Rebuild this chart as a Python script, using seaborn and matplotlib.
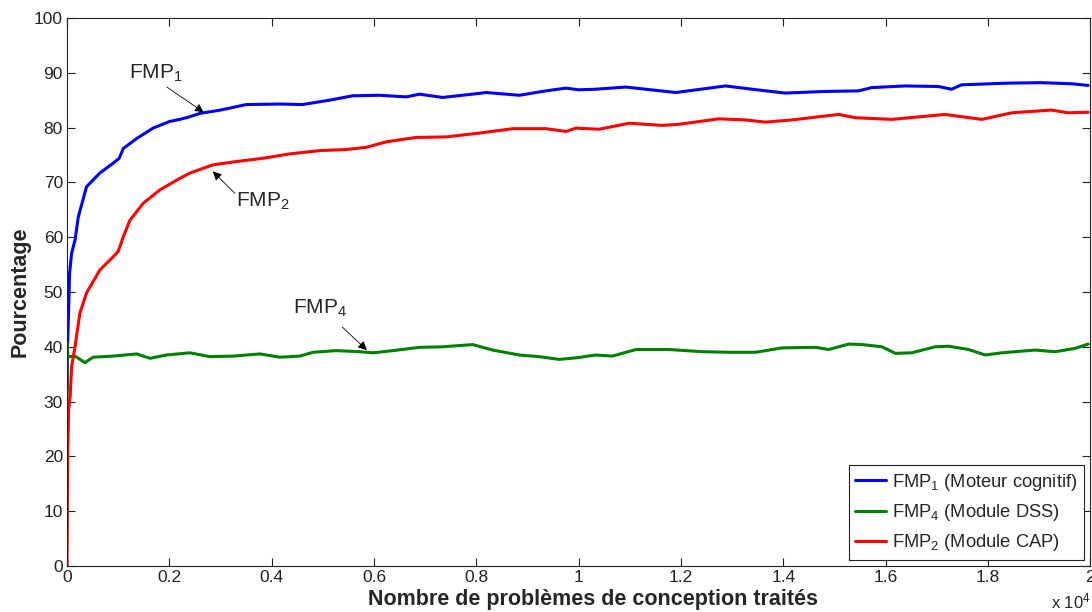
import matplotlib
matplotlib.use("Agg")
from matplotlib import pyplot as plt
from matplotlib.ticker import FuncFormatter, MultipleLocator
import numpy as np
import pandas as pd
import seaborn as sns

# nombre de problemes traites (x) et pourcentage (y)
fmp1_x = [0, 10, 50, 90, 156, 220, 380, 640, 900, 1020, 1100, 1360, 1680, 2000, 2200,
          2370, 2600, 3000, 3500, 4160, 4600, 5130, 5580, 6100, 6630, 6890, 7340,
          7920, 8190, 8840, 9360, 9750, 10000, 10330, 10920, 11900, 12870, 13390,
          14040, 14820, 15470, 15730, 16380, 17030, 17290, 17480, 18340, 19040,
          19630, 19960]
fmp1_y = [32, 40, 53.5, 57.1, 59.5, 63.7, 69.2, 71.7, 73.5, 74.4, 76.2, 78.0, 79.9,
          81.1, 81.5, 81.9, 82.6, 83.2, 84.2, 84.3, 84.2, 85.0, 85.8, 85.9, 85.6,
          86.1, 85.5, 86.1, 86.4, 85.9, 86.7, 87.2, 86.9, 87.0, 87.4, 86.4, 87.6,
          87.0, 86.3, 86.6, 86.7, 87.3, 87.6, 87.5, 87.0, 87.8, 88.1, 88.2, 88.0,
          87.7]

fmp2_x = [0, 15, 30, 60, 90, 156, 250, 380, 640, 900, 1000, 1100, 1230, 1490, 1810,
          2140, 2400, 2850, 3310, 3830, 4350, 4940, 5460, 5850, 6240, 6820, 7410,
          8060, 8710, 9360, 9750, 9950, 10400, 10990, 11630, 11960, 12740, 13260,
          13650, 14170, 15080, 15410, 16120, 17160, 17880, 18470, 19240, 19570,
          19960]
fmp2_y = [0, 21, 28.5, 30.9, 36.4, 40.0, 46.1, 49.8, 54.0, 56.4, 57.4, 60.1, 63.1,
          66.2, 68.6, 70.4, 71.7, 73.2, 73.8, 74.4, 75.2, 75.8, 76.0, 76.4, 77.4,
          78.2, 78.3, 79.0, 79.8, 79.8, 79.3, 79.9, 79.7, 80.8, 80.4, 80.6, 81.6,
          81.4, 81.0, 81.4, 82.4, 81.8, 81.5, 82.4, 81.5, 82.7, 83.2, 82.7, 82.8]

fmp4_x = [0, 5, 15, 60, 156, 350, 380, 510, 900, 1360, 1620, 1940, 2400, 2790, 3250,
          3770, 4160, 4550, 4810, 5260, 5720, 5980, 6370, 6890, 7340, 7930, 8320,
          8840, 9230, 9620, 9970, 10330, 10660, 11120, 11770, 12420, 12940, 13460,
          13980, 14630, 14890, 15280, 15540, 15930, 16190, 16510, 16970, 17230,
          17620, 17950, 18270, 18920, 19310, 19700, 19960]
fmp4_y = [29, 40.7, 38.2, 38.2, 38.3, 37.1, 37.3, 38.1, 38.3, 38.7, 37.9, 38.5, 38.9,
          38.2, 38.3, 38.7, 38.1, 38.3, 39.0, 39.3, 39.1, 38.9, 39.3, 39.9, 40.0,
          40.4, 39.4, 38.5, 38.2, 37.7, 38.0, 38.5, 38.3, 39.5, 39.5, 39.1, 39.0,
          39.0, 39.8, 39.9, 39.5, 40.5, 40.4, 40.0, 38.8, 38.9, 40.0, 40.1, 39.5,
          38.5, 38.9, 39.4, 39.1, 39.7, 40.5]

labels = [r"FMP$_1$ (Moteur cognitif)", r"FMP$_4$ (Module DSS)", r"FMP$_2$ (Module CAP)"]
couleurs = ["#0000ff", "#008000", "#ff0000"]

sns.set_style("ticks")
plt.rcParams["font.family"] = ["Liberation Sans", "DejaVu Sans"]
plt.rcParams["mathtext.fontset"] = "custom"
plt.rcParams["mathtext.rm"] = "Liberation Sans"
plt.rcParams["mathtext.it"] = "Liberation Sans"
plt.rcParams["mathtext.bf"] = "Liberation Sans:bold"

df = pd.concat([
    pd.DataFrame({"x": fmp1_x, "y": fmp1_y, "serie": labels[0]}),
    pd.DataFrame({"x": fmp4_x, "y": fmp4_y, "serie": labels[1]}),
    pd.DataFrame({"x": fmp2_x, "y": fmp2_y, "serie": labels[2]}),
])

fig = plt.figure(figsize=(10.92, 6.12), dpi=100)
ax = fig.add_axes([0.0614, 0.0752, 0.937, 0.8954])
sns.lineplot(data=df, x="x", y="y", hue="serie", palette=couleurs, hue_order=labels,
             sort=False, estimator=None, linewidth=2.2, ax=ax)

ax.set_xlim(0, 20000)
ax.set_ylim(0, 100)
ax.xaxis.set_major_locator(MultipleLocator(2000))
ax.yaxis.set_major_locator(MultipleLocator(10))
ax.xaxis.set_major_formatter(FuncFormatter(lambda v, p: f"{v / 1e4:g}"))
ax.tick_params(direction="in", length=6, width=0.8, top=True, right=True,
               labelsize=12.5, pad=3, colors="#222222")
for s in ax.spines.values():
    s.set_visible(True)
    s.set_linewidth(0.8)
    s.set_color("#222222")

ax.set_xlabel("Nombre de problèmes de conception traités", fontsize=15.5,
              fontweight="bold")
ax.xaxis.set_label_coords(0.514, -0.042)
ax.set_ylabel("Pourcentage", fontsize=15.5, fontweight="bold", labelpad=2)
ax.text(0.962, -0.077, r"x 10$^4$", transform=ax.transAxes, fontsize=12,
        ha="left", va="baseline")

fleche = dict(arrowstyle="-|>", color="black", lw=0.6, mutation_scale=13,
              shrinkA=0, shrinkB=0)
ax.text(1210, 89, r"FMP$_1$", fontsize=15, ha="left", va="baseline")
ax.annotate("", xy=(2670, 82.8), xytext=(1950, 87.4), arrowprops=fleche)
ax.text(3300, 65.5, r"FMP$_2$", fontsize=15, ha="left", va="baseline")
ax.annotate("", xy=(2850, 72.0), xytext=(3280, 68.0), arrowprops=fleche)
ax.text(4420, 46, r"FMP$_4$", fontsize=15, ha="left", va="baseline")
ax.annotate("", xy=(5860, 39.4), xytext=(5380, 43.6), arrowprops=fleche)

leg = ax.legend(loc="lower right", fontsize=13.2, frameon=True, fancybox=False,
                edgecolor="#222222", framealpha=1, handlelength=1.7,
                borderaxespad=0.35, labelspacing=0.5, handletextpad=0.3,
                borderpad=0.35)
leg.get_frame().set_linewidth(0.8)
for h in leg.get_lines():
    h.set_linewidth(2.2)

fig.savefig("out.png", dpi=100)
